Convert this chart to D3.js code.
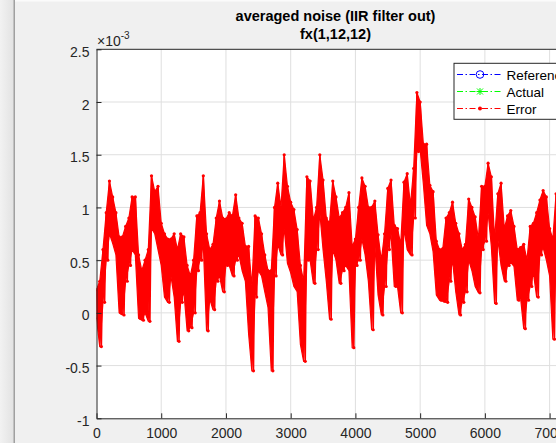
<!DOCTYPE html>
<html>
<head>
<meta charset="utf-8">
<script src="https://cdn.jsdelivr.net/npm/d3@7"></script>
<style>
  body { margin: 0; background: #f0f0f0; overflow: hidden; }
  svg { display: block; font-family: "Liberation Sans", Arial, sans-serif; }
  .tick text { fill: #262626; font-size: 14px; }
</style>
</head>
<body>
<div id="chart"></div>
<script>
// sample positions of the error trace (every 50 samples), values in units of 1e-3
const sampleX = d3.range(0, 7101, 50);
// upper and lower edge of the red band
const errHi = [
  0.22, 0.30, 0.60, 0.95, 1.25, 1.10, 0.95, 0.72, 0.72, 0.82,
  0.90, 1.10, 1.10, 0.55, 0.40, 0.50, 0.60, 1.30, 1.15, 1.20,
  0.85, 0.75, 0.70, 0.70, 0.75, 0.60, 0.75, 0.72, 0.45, 0.35,
  0.50, 0.92, 0.95, 1.30, 0.75, 0.60, 0.65, 0.90, 1.06, 0.90,
  0.89, 0.95, 0.92, 1.12, 0.90, 0.85, 0.63, 0.63, 0.25, 0.92,
  0.90, 0.75, 0.55, 0.40, 0.40, 1.00, 1.23, 1.00, 1.50, 1.20,
  1.05, 0.98, 0.79, 0.45, 0.30, 1.29, 1.25, 0.88, 1.00, 1.50,
  1.26, 0.90, 0.85, 1.25, 1.10, 0.90, 0.95, 1.00, 1.14, 0.63,
  0.70, 1.00, 1.28, 1.20, 1.00, 1.00, 1.06, 0.74, 0.50, 0.75,
  1.18, 1.26, 0.83, 0.80, 0.65, 1.24, 1.32, 1.02, 1.37, 2.09,
  2.00, 1.60, 1.60, 1.21, 1.15, 0.68, 0.60, 0.61, 0.90, 0.95,
  1.05, 0.85, 0.75, 0.60, 0.65, 1.08, 1.00, 0.91, 0.70, 1.20,
  1.20, 1.42, 1.29, 0.70, 1.13, 1.23, 0.80, 0.92, 0.97, 0.82,
  0.60, 0.62, 0.65, 0.50, 0.82, 0.85, 0.95, 1.07, 1.16, 1.10,
  0.80, 0.70, 1.13
];
const errLo = [
  -0.05, -0.32, 0.10, 0.50, 0.75, 0.66, 0.55, 0.00, -0.02, 0.30,
  0.45, 0.60, 0.55, -0.05, -0.07, 0.00, -0.08, 0.80, 0.75, 0.60,
  0.45, 0.15, 0.10, 0.35, 0.15, -0.27, 0.10, 0.20, -0.17, -0.14,
  0.00, 0.40, 0.50, 0.65, -0.17, 0.13, 0.03, 0.30, 0.35, 0.20,
  0.45, 0.45, 0.35, 0.50, 0.55, 0.40, 0.30, -0.20, -0.55, 0.15,
  0.40, 0.35, 0.20, 0.05, -0.55, 0.35, 0.65, 0.55, 0.80, 0.47,
  0.38, 0.25, 0.20, -0.30, -0.46, 0.50, 0.50, 0.28, 0.60, 0.95,
  0.60, 0.30, -0.06, 0.60, 0.50, 0.28, 0.40, 0.45, 0.40, -0.33,
  0.45, 0.50, 0.70, 0.55, 0.30, -0.16, 0.65, 0.17, -0.02, 0.25,
  0.60, 0.75, 0.25, 0.25, 0.00, 0.80, 0.60, 0.55, 0.90, 1.53,
  1.55, 1.22, 0.83, 0.75, 0.58, 0.17, 0.12, 0.11, 0.10, 0.30,
  0.50, 0.20, -0.02, 0.10, 0.20, 0.50, 0.40, 0.25, 0.19, 0.60,
  0.68, 0.95, 0.63, 0.09, 0.70, 0.45, 0.30, 0.45, 0.48, 0.44,
  0.12, 0.15, -0.15, 0.12, 0.25, 0.38, 0.15, 0.55, 0.62, 0.50,
  0.35, -0.25, 0.45
];
const xTicks = [0, 1000, 2000, 3000, 4000, 5000, 6000, 7000];
const yTicks = [-1, -0.5, 0, 0.5, 1, 1.5, 2, 2.5];
const legendItems = ["Reference", "Actual", "Error"];
const legendColors = ["#0000ff", "#00ff00", "#ff0000"];

const width = 556;
const height = 443;
const axLeft = 96.5, axRight = 575.5, axTop = 49.3, axBottom = 418.3;

const svg = d3.select("#chart")
    .append("svg")
    .attr("width", width)
    .attr("height", height);

// window frame on the left edge
const grad = svg.append("defs").append("linearGradient").attr("id", "frame");
grad.append("stop").attr("offset", "0%").attr("stop-color", "#f2f2f2");
grad.append("stop").attr("offset", "100%").attr("stop-color", "#e2e2e2");
svg.append("rect").attr("x", 0).attr("y", 0).attr("width", 14).attr("height", height)
    .attr("fill", "url(#frame)");
svg.append("rect").attr("x", 13.5).attr("y", 0).attr("width", 1.5).attr("height", height)
    .attr("fill", "#a0a0a0");
svg.append("rect").attr("x", 15).attr("y", 0).attr("width", width).attr("height", 1.5)
    .attr("fill", "#fbfbfb");

const xScale = d3.scaleLinear().domain([0, 7400]).range([axLeft, axRight]);
const yScale = d3.scaleLinear().domain([-1, 2.5]).range([axBottom, axTop]);

// axes background
svg.append("rect")
    .attr("x", axLeft).attr("y", axTop)
    .attr("width", axRight - axLeft).attr("height", axBottom - axTop)
    .attr("fill", "#fff");

// grid
svg.append("g").selectAll("line").data(xTicks.slice(1)).enter().append("line")
    .attr("x1", d => xScale(d)).attr("x2", d => xScale(d))
    .attr("y1", axTop).attr("y2", axBottom)
    .attr("stroke", "#dfdfdf").attr("stroke-width", 1);
svg.append("g").selectAll("line").data(yTicks.slice(1, -1)).enter().append("line")
    .attr("x1", axLeft).attr("x2", axRight)
    .attr("y1", d => yScale(d)).attr("y2", d => yScale(d))
    .attr("stroke", "#dfdfdf").attr("stroke-width", 1);

// error trace: dense band between the upper and lower edge, with the zigzag on top
const band = sampleX.map((x, i) => ({ x: x, hi: errHi[i], lo: errLo[i] }));
const points = [];
band.forEach(d => {
    points.push([d.x, d.hi]);
    points.push([d.x + 25, d.lo]);
});

svg.append("clipPath").attr("id", "plot-clip").append("rect")
    .attr("x", axLeft).attr("y", axTop)
    .attr("width", axRight - axLeft).attr("height", axBottom - axTop);

const plot = svg.append("g").attr("clip-path", "url(#plot-clip)");

const area = d3.area()
    .x(d => xScale(d.x))
    .y0(d => yScale(d.lo))
    .y1(d => yScale(d.hi));

plot.append("path")
    .datum(band)
    .attr("d", area)
    .attr("fill", "#ff0000")
    .attr("stroke", "#ff0000")
    .attr("stroke-width", 1.2)
    .attr("stroke-linejoin", "round");

const line = d3.line()
    .x(d => xScale(d[0]))
    .y(d => yScale(d[1]));

plot.append("path")
    .datum(points)
    .attr("d", line)
    .attr("fill", "none")
    .attr("stroke", "#ff0000")
    .attr("stroke-width", 1.6)
    .attr("stroke-linejoin", "round");

plot.selectAll("circle").data(points).enter().append("circle")
    .attr("cx", d => xScale(d[0]))
    .attr("cy", d => yScale(d[1]))
    .attr("r", 1.6)
    .attr("fill", "#ff0000");

// axes, ticks point inward like matlab
const xAxis = svg.append("g")
    .attr("transform", "translate(0," + axBottom + ")")
    .call(d3.axisBottom(xScale).tickValues(xTicks).tickFormat(d3.format("d"))
        .tickSizeInner(-5).tickSizeOuter(0).tickPadding(10));
const yAxis = svg.append("g")
    .attr("transform", "translate(" + axLeft + ",0)")
    .call(d3.axisLeft(yScale).tickValues(yTicks).tickFormat(d => d)
        .tickSizeInner(-5).tickSizeOuter(0).tickPadding(7));

[xAxis, yAxis].forEach(ax => {
    ax.selectAll(".domain").attr("stroke", "#262626");
    ax.selectAll(".tick line").attr("stroke", "#262626");
    ax.selectAll(".tick text").style("font-size", "14px");
});
yAxis.selectAll(".tick text").attr("dy", "0.5em");

// top border of the box
svg.append("line")
    .attr("x1", axLeft).attr("x2", axRight)
    .attr("y1", axTop).attr("y2", axTop)
    .attr("stroke", "#262626");

// exponent label
const expo = svg.append("text").attr("x", 97).attr("y", 46)
    .attr("fill", "#262626").style("font-size", "14px");
expo.append("tspan").text("\u00d710");
expo.append("tspan").attr("dy", -7).style("font-size", "10px").text("-3");

// title
svg.append("text").attr("x", 335.5).attr("y", 20.5)
    .attr("text-anchor", "middle").attr("fill", "#000")
    .style("font-size", "14.5px").style("font-weight", "bold")
    .text("averaged noise (IIR filter out)");
svg.append("text").attr("x", 335.5).attr("y", 39)
    .attr("text-anchor", "middle").attr("fill", "#000")
    .style("font-size", "14.5px").style("font-weight", "bold")
    .text("fx(1,12,12)");

// legend
const legend = svg.append("g");
legend.append("rect")
    .attr("x", 454).attr("y", 63.3)
    .attr("width", 130).attr("height", 56)
    .attr("fill", "#fff").attr("stroke", "#262626");

const rowY = i => 74.5 + i * 17;
legend.selectAll("line.entry").data(legendItems).enter().append("line")
    .attr("class", "entry")
    .attr("x1", 457).attr("x2", 503)
    .attr("y1", (d, i) => rowY(i)).attr("y2", (d, i) => rowY(i))
    .attr("stroke", (d, i) => legendColors[i])
    .attr("stroke-dasharray", "6,2.5,1.5,2.5");
legend.selectAll("text").data(legendItems).enter().append("text")
    .text(d => d)
    .attr("x", 506.5)
    .attr("y", (d, i) => rowY(i) + 5)
    .attr("fill", "#000")
    .style("font-size", "13.5px");

// markers
legend.append("circle").attr("cx", 480).attr("cy", rowY(0)).attr("r", 3.8)
    .attr("fill", "none").attr("stroke", legendColors[0]);
const star = legend.append("g").attr("transform", "translate(480," + rowY(1) + ")")
    .attr("stroke", legendColors[1]).attr("stroke-width", 1);
[[-3, -3, 3, 3], [-3, 3, 3, -3], [-3.5, 0, 3.5, 0], [0, -3.5, 0, 3.5]].forEach(s => {
    star.append("line").attr("x1", s[0]).attr("y1", s[1]).attr("x2", s[2]).attr("y2", s[3]);
});
legend.append("circle").attr("cx", 480).attr("cy", rowY(2)).attr("r", 2)
    .attr("fill", legendColors[2]);
</script>
</body>
</html>
